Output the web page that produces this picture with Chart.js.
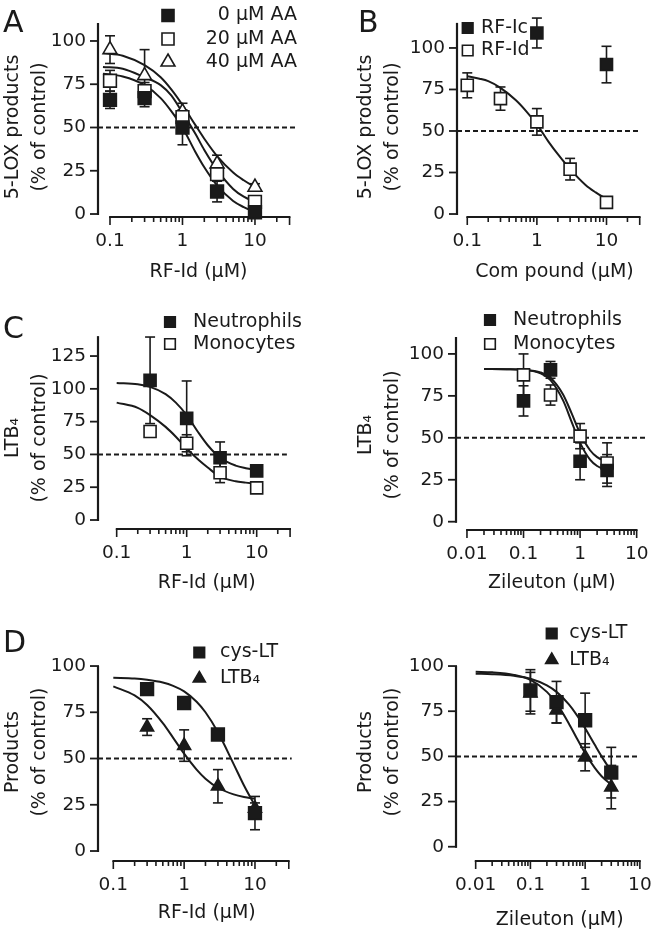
<!DOCTYPE html>
<html>
<head>
<meta charset="utf-8">
<script src="https://cdn.jsdelivr.net/npm/chart.js@4.4.1/dist/chart.umd.min.js"></script>
<style>
  body { margin: 0; background: #fff; }
  #wrap { position: relative; width: 662px; height: 930px; overflow: hidden; background: #fff; }
  #wrap canvas { position: absolute; }
</style>
</head>
<body>
<div id="wrap">
  <canvas id="pA"></canvas>
  <canvas id="pB"></canvas>
  <canvas id="pC1"></canvas>
  <canvas id="pC2"></canvas>
  <canvas id="pD1"></canvas>
  <canvas id="pD2"></canvas>
</div>
<script>
const INK = '#1a1a1a';
const FONT = 'DejaVu Sans';

// ---- shared tick values
const yTicks100 = [0, 25, 50, 75, 100];
const yTicks125 = [0, 25, 50, 75, 100, 125];
const xLabelsRF = [0.1, 1, 10];
const xMajorRF = [0.1, 1, 10, 30];
const xMinorRF = [0.2, 0.3, 0.4, 0.5, 0.6, 0.7, 0.8, 0.9, 2, 3, 4, 5, 6, 7, 8, 9, 20];
const xLabelsZil = [0.01, 0.1, 1, 10];
const xMajorZil = [0.01, 0.1, 1, 10];
const xMinorZil = [0.02, 0.03, 0.04, 0.05, 0.06, 0.07, 0.08, 0.09,
                   0.2, 0.3, 0.4, 0.5, 0.6, 0.7, 0.8, 0.9, 2, 3, 4, 5, 6, 7, 8, 9];

// ---- A: RF-Id, 0 / 20 / 40 uM AA
const aDose = [0.1, 0.3, 1, 3, 10];
const aAA0 = [66, 67, 50, 13, 1];
const aAA0Err = [5, 5, 10, 6, 3];
const aAA20 = [77, 71, 56, 23, 7];
const aAA20Err = [6, 5, 4, 4, 2];
const aAA40 = [95, 80, 59, 29, 15.5];
const aAA40Err = [8, 15, 5, 5, 2];
const aFitDose = [0.08, 0.15, 0.3, 0.5, 0.7, 1, 1.5, 2, 3, 5, 7, 10];
const aFit0 = [81, 79.5, 74.5, 67, 59.5, 50, 36, 27, 16.5, 7.5, 4, 1];
const aFit20 = [85, 84, 79, 74.5, 68.5, 58.5, 46.5, 37, 25.5, 14.5, 10, 7];
const aFit40 = [93, 91.5, 86, 79, 72, 63, 51.5, 43.5, 33.5, 24, 19.5, 15.5];

// ---- B: RF-Ic vs RF-Id
const bDose = [0.1, 0.3, 1, 3, 10];
const bRFId = [77.5, 69.5, 55.5, 27, 7];
const bRFIdErr = [7.5, 7, 8, 6.5, 1.5];
const bRFIcDose = [1, 10];
const bRFIc = [109, 90];
const bRFIcErr = [9, 11];
const bFitDose = [0.1, 0.15, 0.2, 0.3, 0.5, 0.7, 1, 1.5, 2, 3, 5, 7, 10];
const bFit = [83, 81.5, 80, 76, 68.5, 62, 54, 43, 36, 27, 17.5, 13, 9];

// ---- C left: RF-Id, neutrophils / monocytes
const cDose = [0.3, 1, 3, 10];
const cNeut = [106.5, 77.5, 47.5, 37.5];
const cNeutErr = [33, 28.5, 12, 2];
const cMono = [67.5, 58.5, 36, 24.5];
const cMonoErr = [3, 6.5, 7.5, 2];
const cFitDose = [0.1, 0.2, 0.3, 0.5, 0.7, 1, 1.5, 2, 3, 5, 7, 10];
const cFitNeut = [104.5, 103.5, 101.5, 96, 89.5, 80, 66, 57, 47.5, 41.5, 39.5, 38];
const cFitMono = [89.5, 85.5, 80, 71, 63.5, 54.5, 45.5, 40, 33, 29.5, 28.5, 27.5];

// ---- C right: zileuton, neutrophils / monocytes
const zDose = [0.1, 0.3, 1, 3];
const zNeut = [72, 90.5, 36, 30.5];
const zNeutErr = [9, 5, 11, 9.5];
const zMono = [87.5, 75.5, 51, 35];
const zMonoErr = [12.5, 6, 7.5, 12];
const zFitDose = [0.02, 0.05, 0.1, 0.2, 0.3, 0.5, 0.7, 1, 1.5, 2, 3];
const zFitNeut = [91, 90.9, 90.5, 88.4, 84.4, 72.3, 60, 47, 37, 33.2, 30.6];
const zFitMono = [91, 90.9, 90.6, 89, 85.8, 75.8, 65, 52.7, 42.6, 38.5, 35.7];

// ---- D left: RF-Id, cys-LT / LTB4
const dDose = [0.3, 1, 3, 10];
const dCys = [87.5, 80, 63, 20.5];
const dCysErr = [2, 3, 3, 9];
const dLtb = [67, 57, 35, 23];
const dLtbErr = [4.5, 8.5, 9, 3];
const dFitDose = [0.1, 0.2, 0.3, 0.5, 0.7, 1, 1.5, 2, 3, 5, 7, 10];
const dFitCys = [93.7, 93.3, 92.6, 91.1, 89.3, 86.3, 80.7, 75, 64.2, 47, 35.4, 24.5];
const dFitLtb = [89, 84.1, 78.9, 69.1, 61.2, 52.6, 44, 39.1, 34.2, 30.6, 29.2, 28.3];

// ---- D right: zileuton, cys-LT / LTB4
const eDose = [0.1, 0.3, 1, 3];
const eCys = [86.5, 80, 70, 41];
const eCysErr = [11.5, 11.5, 15, 14];
const eLtb = [85, 75.5, 49.5, 33];
const eLtbErr = [11.5, 7, 7.5, 12];
const eFitDose = [0.01, 0.02, 0.05, 0.1, 0.2, 0.3, 0.5, 0.7, 1, 1.5, 2, 3];
const eFitCys = [95.8, 95.5, 94.6, 93, 89.3, 85.7, 78.9, 73, 65.6, 56.4, 50, 41.7];
const eFitLtb = [96.8, 96.5, 95.1, 92.3, 85.7, 79.3, 68.4, 60.2, 51.7, 43.6, 39, 34.4];

// ---------------------------------------------------------------
function pts(xs, ys) { return xs.map((x, i) => ({ x: x, y: ys[i] })); }

function markers(xs, ys, errs, style, filled, r) {
  return {
    data: pts(xs, ys), yErr: errs, pointStyle: style, pointRadius: r,
    pointBackgroundColor: filled ? INK : '#fff', pointBorderColor: INK,
    pointBorderWidth: 1.6, order: 0, clip: false
  };
}
function curve(xs, ys) {
  return {
    data: pts(xs, ys), showLine: true, pointRadius: 0, borderColor: INK,
    borderWidth: 2, cubicInterpolationMode: 'monotone', order: 1, clip: false
  };
}
function halfLine(x0, x1) {
  return {
    data: [{ x: x0, y: 50 }, { x: x1, y: 50 }], showLine: true, pointRadius: 0,
    borderColor: INK, borderWidth: 2, borderDash: [5, 3], order: 2, clip: false
  };
}

function seg(ctx, x1, y1, x2, y2) {
  ctx.beginPath(); ctx.moveTo(x1, y1); ctx.lineTo(x2, y2); ctx.stroke();
}
function symbol(ctx, style, filled, r, x, y) {
  ctx.beginPath();
  if (style === 'rect') {
    const s = r * Math.SQRT1_2;
    ctx.rect(x - s, y - s, 2 * s, 2 * s);
  } else {
    ctx.moveTo(x, y - r);
    ctx.lineTo(x + r * 0.866, y + r / 2);
    ctx.lineTo(x - r * 0.866, y + r / 2);
    ctx.closePath();
  }
  ctx.fillStyle = filled ? INK : '#fff';
  ctx.fill();
  ctx.lineWidth = 1.6; ctx.strokeStyle = INK; ctx.stroke();
}

// Prism-style detached axes, error bars, legend and panel letter
function prismFor(p) {
  return {
    id: 'prism',
    beforeDatasetsDraw(chart) {
      const { ctx, chartArea: ca } = chart;
      const xs = chart.scales.x, ys = chart.scales.y;
      ctx.save();
      ctx.strokeStyle = INK;
      ctx.lineWidth = 2.2;
      seg(ctx, ca.left, ys.getPixelForValue(0) + 1, ca.left, ys.getPixelForValue(p.yAxisTop));
      ctx.lineWidth = 1.8;
      ys.ticks.forEach(t => {
        const y = ys.getPixelForValue(t.value);
        seg(ctx, ca.left - 8, y, ca.left + 1, y);
      });
      const y0 = ca.bottom;
      ctx.lineWidth = 2.2;
      seg(ctx, xs.getPixelForValue(p.xMajor[0]) - 0.9, y0,
               xs.getPixelForValue(p.xMajor[p.xMajor.length - 1]) + 0.9, y0);
      ctx.lineWidth = 1.6;
      p.xMajor.forEach(v => { const x = xs.getPixelForValue(v); seg(ctx, x, y0, x, y0 + 8); });
      p.xMinor.forEach(v => { const x = xs.getPixelForValue(v); seg(ctx, x, y0, x, y0 + 5); });

      ctx.lineWidth = 1.6;
      chart.data.datasets.forEach((ds, i) => {
        if (!ds.yErr) return;
        chart.getDatasetMeta(i).data.forEach((pt, j) => {
          const v = ds.data[j].y, e = ds.yErr[j];
          const yt = ys.getPixelForValue(v + e), yb = ys.getPixelForValue(v - e);
          seg(ctx, pt.x, yt, pt.x, yb);
          seg(ctx, pt.x - 5, yt, pt.x + 5, yt);
          seg(ctx, pt.x - 5, yb, pt.x + 5, yb);
        });
      });
      ctx.restore();
    },
    afterDraw(chart) {
      const ctx = chart.ctx;
      ctx.save();
      ctx.fillStyle = INK;
      ctx.textBaseline = 'middle';
      (p.legend || []).forEach(it => {
        symbol(ctx, it.style, it.filled, it.r, it.sx, it.y);
        ctx.fillStyle = INK;
        ctx.font = '19px "' + FONT + '"';
        ctx.textAlign = it.align || 'left';
        ctx.fillText(it.text, it.tx, it.y);
      });
      if (p.letter) {
        ctx.font = '30px "' + FONT + '"';
        ctx.textAlign = 'left';
        ctx.textBaseline = 'alphabetic';
        ctx.fillText(p.letter.text, p.letter.x, p.letter.y);
      }
      ctx.restore();
    }
  };
}

function makePanel(p) {
  const canvas = document.getElementById(p.id);
  canvas.width = p.w; canvas.height = p.h;
  canvas.style.left = p.left + 'px';
  canvas.style.top = p.top + 'px';
  const tickFont = { family: FONT, size: 18.5 };
  const titleFont = { family: FONT, size: 19, lineHeight: 1.4 };
  return new Chart(canvas, {
    type: 'scatter',
    data: { datasets: p.datasets },
    options: {
      responsive: false,
      animation: false,
      events: [],
      layout: { padding: { left: 0, top: p.plotTop, right: p.w - p.plotRight, bottom: 0 } },
      plugins: { legend: { display: false }, tooltip: { enabled: false } },
      scales: {
        x: {
          type: 'logarithmic', min: p.xMin, max: p.xMax,
          grid: { display: false, drawTicks: false }, border: { display: false },
          afterBuildTicks: s => { s.ticks = p.xLabels.map(v => ({ value: v })); },
          afterFit: s => { s.height = p.h - p.plotBottom; },
          ticks: { callback: v => String(v), font: tickFont, color: INK, padding: 13,
                   maxRotation: 0, autoSkip: false },
          title: { display: true, text: p.xTitle, font: titleFont, color: INK,
                   padding: { top: 0, bottom: p.xTitlePad } }
        },
        y: {
          type: 'linear', min: p.yMin, max: p.yMax,
          grid: { display: false, drawTicks: false }, border: { display: false },
          afterBuildTicks: s => { s.ticks = p.yTicks.map(v => ({ value: v })); },
          afterFit: s => { s.width = p.plotLeft; },
          ticks: { font: tickFont, color: INK, padding: 12 },
          title: { display: true, text: p.yTitle, font: titleFont, color: INK,
                   padding: { top: p.yTitlePad, bottom: 0 } }
        }
      }
    },
    plugins: [prismFor(p)]
  });
}

const panels = [
  {
    id: 'pA', left: 0, top: 0, w: 330, h: 290,
    plotTop: 37, plotLeft: 98, plotRight: 299, plotBottom: 217,
    xMin: 0.0683, xMax: 40.5, yMin: -1.73, yMax: 102.3, yAxisTop: 110.4,
    yTicks: yTicks100, xLabels: xLabelsRF, xMajor: xMajorRF, xMinor: xMinorRF,
    yTitle: ['5-LOX products', '(% of control)'], yTitlePad: 0,
    xTitle: 'RF-Id (μM)', xTitlePad: 4.7,
    letter: { text: 'A', x: 3, y: 32 },
    legend: [
      { style: 'rect', filled: true, r: 8.5, sx: 168, y: 15.5, text: '0 μM AA', tx: 297, align: 'right' },
      { style: 'rect', filled: false, r: 8.5, sx: 168, y: 39, text: '20 μM AA', tx: 297, align: 'right' },
      { style: 'triangle', filled: false, r: 8, sx: 168, y: 62, text: '40 μM AA', tx: 297, align: 'right' }
    ],
    datasets: [
      markers(aDose, aAA0, aAA0Err, 'rect', true, 9),
      markers(aDose, aAA20, aAA20Err, 'rect', false, 9),
      markers(aDose, aAA40, aAA40Err, 'triangle', false, 8),
      curve(aFitDose, aFit0), curve(aFitDose, aFit20), curve(aFitDose, aFit40),
      halfLine(0.0683, 38)
    ]
  },
  {
    id: 'pB', left: 330, top: 0, w: 332, h: 290,
    plotTop: 37, plotLeft: 127, plotRight: 330, plotBottom: 217,
    xMin: 0.0712, xMax: 44.9, yMin: -1.8, yMax: 106.6, yAxisTop: 115.1,
    yTicks: yTicks100, xLabels: xLabelsRF, xMajor: xMajorRF, xMinor: xMinorRF,
    yTitle: ['5-LOX products', '(% of control)'], yTitlePad: 23,
    xTitle: 'Com pound (μM)', xTitlePad: 4.7,
    letter: { text: 'B', x: 28, y: 32 },
    legend: [
      { style: 'rect', filled: true, r: 7.5, sx: 137.7, y: 28, text: 'RF-Ic', tx: 151 },
      { style: 'rect', filled: false, r: 7.5, sx: 137.7, y: 50.5, text: 'RF-Id', tx: 151 }
    ],
    datasets: [
      markers(bRFIcDose, bRFIc, bRFIcErr, 'rect', true, 8.5),
      markers(bDose, bRFId, bRFIdErr, 'rect', false, 8.5),
      curve(bFitDose, bFit),
      halfLine(0.0712, 31)
    ]
  },
  {
    id: 'pC1', left: 0, top: 300, w: 330, h: 301,
    plotTop: 47, plotLeft: 98, plotRight: 315.4, plotBottom: 229,
    xMin: 0.0541, xMax: 69, yMin: -6.86, yMax: 131.9, yAxisTop: 140.2,
    yTicks: yTicks125, xLabels: xLabelsRF, xMajor: xMajorRF, xMinor: xMinorRF,
    yTitle: ['LTB₄', '(% of control)'], yTitlePad: 0,
    xTitle: 'RF-Id (μM)', xTitlePad: 4.7,
    letter: { text: 'C', x: 3, y: 38 },
    legend: [
      { style: 'rect', filled: true, r: 7.5, sx: 170, y: 22, text: 'Neutrophils', tx: 193 },
      { style: 'rect', filled: false, r: 7.5, sx: 170, y: 44, text: 'Monocytes', tx: 193 }
    ],
    datasets: [
      markers(cDose, cNeut, cNeutErr, 'rect', true, 8.5),
      markers(cDose, cMono, cMonoErr, 'rect', false, 8.5),
      curve(cFitDose, cFitNeut), curve(cFitDose, cFitMono),
      halfLine(0.0541, 27)
    ]
  },
  {
    id: 'pC2', left: 330, top: 300, w: 332, h: 301,
    plotTop: 40, plotLeft: 126, plotRight: 330, plotBottom: 230,
    xMin: 0.0064, xMax: 15.6, yMin: -4.95, yMax: 108.3, yAxisTop: 110.1,
    yTicks: yTicks100, xLabels: xLabelsZil, xMajor: xMajorZil, xMinor: xMinorZil,
    yTitle: ['LTB₄', '(% of control)'], yTitlePad: 23,
    xTitle: 'Zileuton (μM)', xTitlePad: 4.7,
    legend: [
      { style: 'rect', filled: true, r: 7.5, sx: 160, y: 20, text: 'Neutrophils', tx: 183 },
      { style: 'rect', filled: false, r: 7.5, sx: 160, y: 44, text: 'Monocytes', tx: 183 }
    ],
    datasets: [
      markers(zDose, zNeut, zNeutErr, 'rect', true, 8.5),
      markers(zDose, zMono, zMonoErr, 'rect', false, 8.5),
      curve(zFitDose, zFitNeut), curve(zFitDose, zFitMono),
      halfLine(0.0064, 15.6)
    ]
  },
  {
    id: 'pD1', left: 0, top: 620, w: 330, h: 310,
    plotTop: 23, plotLeft: 98, plotRight: 315.4, plotBottom: 241,
    xMin: 0.0608, xMax: 71.3, yMin: -5.4, yMax: 112.4, yAxisTop: 100,
    yTicks: yTicks100, xLabels: xLabelsRF, xMajor: xMajorRF, xMinor: xMinorRF,
    yTitle: ['Products', '(% of control)'], yTitlePad: 0,
    xTitle: 'RF-Id (μM)', xTitlePad: 3.7,
    letter: { text: 'D', x: 3, y: 32 },
    legend: [
      { style: 'rect', filled: true, r: 7.5, sx: 199.3, y: 32.5, text: 'cys-LT', tx: 220 },
      { style: 'triangle', filled: true, r: 7, sx: 199.3, y: 58.5, text: 'LTB₄', tx: 220 }
    ],
    datasets: [
      markers(dDose, dCys, dCysErr, 'rect', true, 9),
      markers(dDose, dLtb, dLtbErr, 'triangle', true, 7.5),
      curve(dFitDose, dFitCys), curve(dFitDose, dFitLtb),
      halfLine(0.0608, 33)
    ]
  },
  {
    id: 'pD2', left: 330, top: 620, w: 344, h: 313,
    plotTop: 23, plotLeft: 126, plotRight: 344, plotBottom: 241,
    xMin: 0.00437, xMax: 26.9, yMin: -7.9, yMax: 112.7, yAxisTop: 100,
    yTicks: yTicks100, xLabels: xLabelsZil, xMajor: xMajorZil, xMinor: xMinorZil,
    yTitle: ['Products', '(% of control)'], yTitlePad: 23,
    xTitle: 'Zileuton (μM)', xTitlePad: 0,
    legend: [
      { style: 'rect', filled: true, r: 7.5, sx: 221.7, y: 13.5, text: 'cys-LT', tx: 239.3 },
      { style: 'triangle', filled: true, r: 7, sx: 221.7, y: 40, text: 'LTB₄', tx: 239.3 }
    ],
    datasets: [
      markers(eDose, eCys, eCysErr, 'rect', true, 9),
      markers(eDose, eLtb, eLtbErr, 'triangle', true, 7.5),
      curve(eFitDose, eFitCys), curve(eFitDose, eFitLtb),
      halfLine(0.00437, 10)
    ]
  }
];

panels.forEach(makePanel);
</script>
</body>
</html>
